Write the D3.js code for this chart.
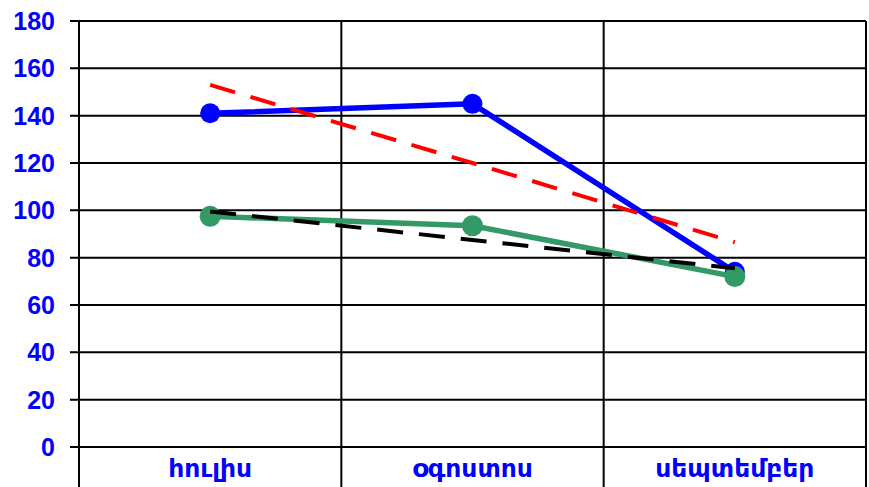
<!DOCTYPE html>
<html><head><meta charset="utf-8">
<script src="https://cdn.jsdelivr.net/npm/d3@7"></script>
<style>html,body{margin:0;padding:0;background:#fff;}svg{display:block;}</style>
</head><body>
<svg id="c" width="869" height="487"></svg>
<script>
const categories = ["հուլիս", "օգոստոս", "սեպտեմբեր"];
const blueSeries = [141, 145, 74];
const greenSeries = [97.5, 93.5, 72];
const redTrend = [153, 120, 86.5];
const blackTrend = [99.5, 87.5, 75.5];
const yTicks = [0, 20, 40, 60, 80, 100, 120, 140, 160, 180];

const svg = d3.select("#c");
const pLeft = 79, pRight = 866, pTop = 21, pBottom = 447;
const x = d3.scaleBand().domain(categories).range([pLeft, pRight]).padding(0);
const y = d3.scaleLinear().domain([0, 180]).range([pBottom, pTop]);
const cx = d => x(d) + x.bandwidth() / 2;

// horizontal gridlines
svg.append("g").selectAll("line").data(yTicks).join("line")
  .attr("x1", pLeft - 9).attr("x2", pRight)
  .attr("y1", d => y(d)).attr("y2", d => y(d))
  .attr("stroke", "#000").attr("stroke-width", 2);

// vertical separators
const seps = [pLeft, ...categories.map(c => x(c) + x.bandwidth())];
svg.append("g").selectAll("line").data(seps).join("line")
  .attr("x1", d => d).attr("x2", d => d)
  .attr("y1", pTop).attr("y2", 490)
  .attr("stroke", "#000").attr("stroke-width", 2);

// y labels
svg.append("g").selectAll("text").data(yTicks).join("text")
  .attr("x", 55).attr("y", d => y(d)).attr("dy", "0.36em")
  .attr("text-anchor", "end")
  .attr("font-family", "Liberation Sans, Arial, sans-serif")
  .attr("font-weight", "bold").attr("font-size", 25)
  .attr("fill", "#0000FF").text(d => d);

// x labels
svg.append("g").selectAll("text").data(categories).join("text")
  .attr("x", d => cx(d)).attr("y", 477)
  .attr("text-anchor", "middle")
  .attr("font-family", "Liberation Sans, DejaVu Sans, Arial, sans-serif")
  .attr("font-weight", "bold").attr("font-size", 25)
  .attr("fill", "#0000FF").text(d => d);

const line = d3.line().x((d, i) => cx(categories[i])).y(d => y(d));

// blue series
svg.append("path").datum(blueSeries).attr("d", line)
  .attr("fill", "none").attr("stroke", "#0000FF").attr("stroke-width", 5.5).attr("stroke-linejoin", "round");
svg.append("g").selectAll("circle").data(blueSeries).join("circle")
  .attr("cx", (d, i) => cx(categories[i])).attr("cy", d => y(d)).attr("r", 10).attr("fill", "#0000FF");

// green series
svg.append("path").datum(greenSeries).attr("d", line)
  .attr("fill", "none").attr("stroke", "#339966").attr("stroke-width", 5.5).attr("stroke-linejoin", "round");
svg.append("g").selectAll("circle").data(greenSeries).join("circle")
  .attr("cx", (d, i) => cx(categories[i])).attr("cy", d => y(d)).attr("r", 10.5).attr("fill", "#339966");

// trendlines
svg.append("path").datum(redTrend).attr("d", line)
  .attr("fill", "none").attr("stroke", "#FF0000").attr("stroke-width", 4).attr("stroke-dasharray", "26,16");
svg.append("path").datum(blackTrend).attr("d", line)
  .attr("fill", "none").attr("stroke", "#000").attr("stroke-width", 4).attr("stroke-dasharray", "26,16");
</script>
</body></html>
